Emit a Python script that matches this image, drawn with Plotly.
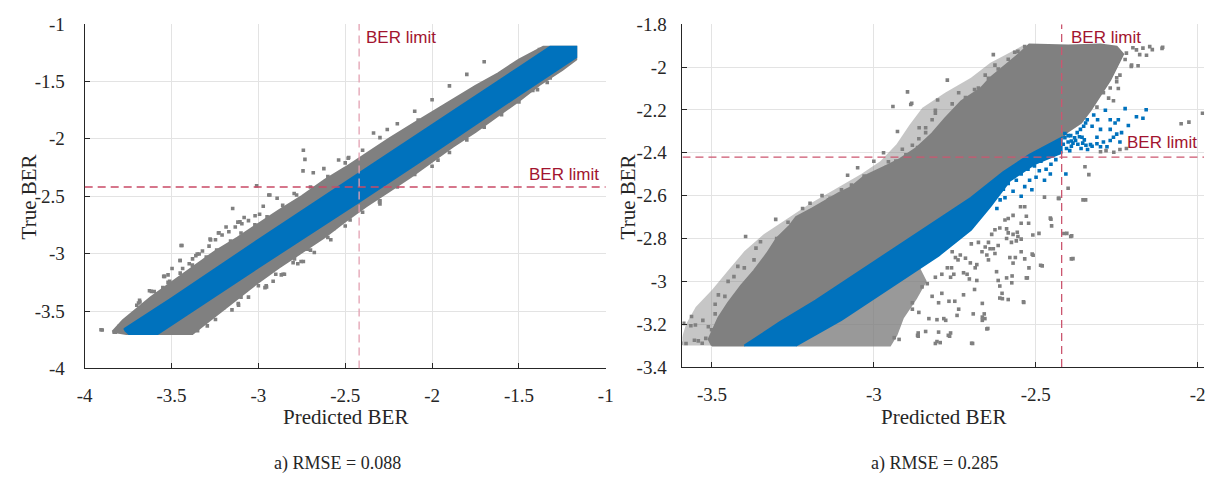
import plotly.graph_objects as go

W, H = 1222, 491
BER_LIMIT = -2.42

# ---------------- tick labels ----------------
L_TICKS = [-4, -3.5, -3, -2.5, -2, -1.5, -1]
L_TICKTEXT = ["-4", "-3.5", "-3", "-2.5", "-2", "-1.5", "-1"]
R_XTICKS = [-3.5, -3, -2.5, -2]
R_XTICKTEXT = ["-3.5", "-3", "-2.5", "-2"]
R_YTICKS = [-3.4, -3.2, -3.0, -2.8, -2.6, -2.4, -2.2, -2.0, -1.8]
R_YTICKTEXT = ["-3.4", "-3.2", "-3", "-2.8", "-2.6", "-2.4", "-2.2", "-2", "-1.8"]

# ---------------- left panel (RMSE = 0.088) ----------------
L_GRAY_X = [-3.84, -3.78, -3.70, -3.62, -3.50, -3.40, -3.25, -3.12, -3.00, -2.88, -2.75, -2.62, -2.50, -2.38,
            -2.25, -2.12, -2.00, -1.88, -1.75, -1.62, -1.50, -1.36, -1.17,
            -1.17, -1.25, -1.38, -1.50, -1.62, -1.75, -1.88, -2.00, -2.12, -2.25, -2.38, -2.50, -2.62, -2.75,
            -2.88, -3.00, -3.10, -3.20, -3.30, -3.38, -3.76]
L_GRAY_Y = [-3.68, -3.58, -3.48, -3.38, -3.25, -3.14, -2.98, -2.86, -2.74, -2.62, -2.50, -2.36, -2.25, -2.13,
            -2.00, -1.88, -1.77, -1.66, -1.54, -1.43, -1.31, -1.20, -1.20,
            -1.31, -1.40, -1.53, -1.67, -1.80, -1.94, -2.07, -2.20, -2.33, -2.46, -2.59, -2.72, -2.86, -2.99,
            -3.12, -3.25, -3.37, -3.49, -3.61, -3.70, -3.70]
L_BLUE_X = [-3.77, -3.745, -3.58, -3.00, -2.42, -2.00, -1.50, -1.17, -1.17, -1.32, -1.50, -2.00, -2.42, -3.00, -3.50, -3.77]
L_BLUE_Y = [-3.665, -3.70, -3.70, -3.12, -2.55, -2.13, -1.62, -1.29, -1.20, -1.20, -1.38, -1.88, -2.30, -2.88, -3.39, -3.655]
L_PTS_X = [-2.741, -2.732, -2.743, -3.01, -3.148, -3.44, -3.45, -3.545, -3.684, -3.80, -3.83, -3.899,
           -2.85, -2.955, -3.116, -2.741, -2.472, -2.30,
           -2.48, -2.538, -2.684, -2.623, -2.794, -2.892, -2.94, -2.993, -3.106, -3.23, -3.275, -3.352, -3.52, -3.627, -3.69,
           -1.382, -1.393, -1.337, -1.966, -1.76, -2.08, -2.258, -2.337, -2.483, -2.303, -2.483, -1.674, -1.584,
           -3.445, -3.497, -3.451, -3.906, -3.824, -3.752, -3.682, -3.72, -3.616, -3.54,
           -2.754, -2.858, -2.953, -3.114, -3.294, -3.35,
           -2.934, -2.972, -3.019, -3.082, -3.118, -3.186, -3.227, -3.278, -3.341, -3.379,
           -2.602, -2.565, -2.64, -2.716, -2.792, -2.915,
           -3.436, -3.398, -3.36, -3.322, -3.284, -3.247, -3.209, -3.17, -3.133, -3.095, -3.057,
           -3.511, -3.55, -3.587, -3.625, -3.663, -3.70,
           -3.70, -3.60, -3.52, -3.45, -3.38, -3.30, -3.24, -3.16, -3.10, -3.02, -2.95, -2.86, -2.78, -2.70,
           -3.247, -3.152, -3.057, -2.962, -2.868, -2.773, -2.678, -2.583,
           -3.30, -3.20, -3.10, -3.00, -2.90, -2.80, -2.70, -2.60, -2.50, -2.40, -2.30, -2.20, -2.10, -2.00,
           -1.90, -1.80, -1.70, -1.60, -1.50, -1.42, -1.32,
           -2.60, -2.50, -2.40, -2.30, -2.20, -2.10, -2.00, -1.90, -1.80, -1.70, -1.60, -1.50]
L_PTS_Y = [-2.10, -2.18, -2.28, -2.41, -2.607, -2.93, -3.06, -3.198, -3.407, -3.63, -3.685, -3.665,
           -3.18, -3.28, -3.435, -3.068, -2.707, -2.568,
           -2.163, -2.185, -2.296, -2.26, -2.477, -2.518, -2.49, -2.657, -2.724, -2.82, -2.88, -3.004, -3.185, -3.323, -3.43,
           -1.223, -1.572, -1.51, -2.186, -1.71, -1.837, -1.92, -1.95, -2.17, -2.55, -2.633, -1.572, -1.516,
           -2.929, -3.129, -3.06, -3.663, -3.685, -3.579, -3.421, -3.532, -3.329, -3.198,
           -3.068, -3.179, -3.29, -3.448, -3.629, -3.671,
           -2.49, -2.588, -2.671, -2.685, -2.726, -2.768, -2.818, -2.873, -3.004, -3.046,
           -2.74, -2.782, -2.852, -2.962, -3.046, -3.24,
           -3.129, -3.088, -3.018, -2.977, -2.935, -2.879, -2.838, -2.81, -2.768, -2.74, -2.713,
           -3.24, -3.296, -3.352, -3.407, -3.463, -3.518,
           -3.45, -3.33, -3.25, -3.17, -3.10, -3.03, -2.97, -2.89, -2.82, -2.75, -2.68, -2.58, -2.49, -2.42,
           -3.573, -3.49, -3.379, -3.296, -3.185, -3.088, -2.99, -2.879,
           -3.56, -3.47, -3.38, -3.28, -3.18, -3.08, -2.97, -2.86, -2.76, -2.64, -2.54, -2.42, -2.31, -2.24,
           -2.12, -2.01, -1.90, -1.79, -1.68, -1.58, -1.47,
           -2.33, -2.21, -2.10, -1.99, -1.87, -1.76, -1.66, -1.54, -1.44, -1.33, -1.44, -1.34]

# ---------------- right panel (RMSE = 0.285) ----------------
# sparser fringe zone round the dense gray core
R_GRAY_HALO_X = [-3.60, -3.58, -3.55, -3.50, -3.45, -3.40, -3.34, -3.28, -3.20, -3.12, -3.04, -2.98, -2.93,
                 -2.89, -2.85, -2.78, -2.70, -2.64, -2.58, -2.54, -2.45, -3.40]
R_GRAY_HALO_Y = [-3.30, -3.20, -3.12, -3.04, -2.95, -2.86, -2.78, -2.72, -2.64, -2.57, -2.50, -2.44, -2.36,
                 -2.27, -2.19, -2.12, -2.05, -1.98, -1.93, -1.90, -2.20, -3.30]
R_GRAY_CORE_X = [-3.50, -3.40, -3.29, -3.18, -3.08, -2.98, -2.88, -2.78, -2.70, -2.60, -2.52, -2.42, -2.40, -2.36,
                 -2.33, -2.30, -2.27, -2.25, -2.23, -2.25, -2.30, -2.40, -2.52, -2.56, -2.60, -2.64, -2.67, -2.73,
                 -2.78, -2.82, -2.87, -2.92, -2.96, -3.03, -3.07, -3.11, -3.19, -3.24, -3.26, -3.30, -3.33, -3.37,
                 -3.41, -3.45, -3.48, -3.51]
R_GRAY_CORE_Y = [-3.30, -3.30, -3.19, -3.09, -2.99, -2.89, -2.79, -2.69, -2.61, -2.49, -2.41, -2.33, -2.30, -2.26,
                 -2.20, -2.13, -2.06, -2.00, -1.94, -1.905, -1.895, -1.90, -1.895, -1.95, -2.00, -2.05, -2.10, -2.16,
                 -2.24, -2.31, -2.38, -2.43, -2.46, -2.51, -2.56, -2.59, -2.66, -2.70, -2.74, -2.80, -2.87, -2.95,
                 -3.02, -3.10, -3.17, -3.27]
R_GRAY_LOW_X = [-3.24, -3.10, -2.95, -2.86, -2.84, -2.87, -2.91, -2.93, -2.95]
R_GRAY_LOW_Y = [-3.30, -3.18, -3.03, -2.94, -3.00, -3.08, -3.17, -3.25, -3.30]
R_BLUE_X = [-3.40, -3.29, -3.18, -3.08, -2.98, -2.88, -2.78, -2.70, -2.60, -2.52, -2.42, -2.42,
            -2.50, -2.58, -2.64, -2.70, -2.80, -2.95, -3.10, -3.24]
R_BLUE_Y = [-3.30, -3.19, -3.09, -2.99, -2.89, -2.79, -2.69, -2.61, -2.49, -2.41, -2.33, -2.40,
            -2.45, -2.53, -2.65, -2.76, -2.88, -3.03, -3.18, -3.30]
R_GRAY_PTS_X = [
    -2.896, -2.883, -2.941, -2.927, -2.912, -2.955, -3.081, -3.069, -3.10, -3.14, -2.86, -2.84, -2.803, -2.81,
    -2.631, -2.565, -2.626, -2.656, -2.738, -2.689, -2.773, -2.886, -2.865, -3.114, -3.197, -3.102, -3.03,
    -3.396, -3.35, -3.303, -3.265, -3.232, -3.364, -3.333, -3.40, -3.432, -3.46, -3.48, -3.49, -3.563, -3.551,
    -3.528, -3.554, -3.542, -3.519, -3.511, -3.501, -3.587, -3.49, -3.595, -3.565, -3.53, -3.58, -3.45, -3.42,
    -3.37, -3.30, -3.24, -3.18, -3.22, -3.16, -3.05, -3.00, -2.97,
    -2.169, -2.148, -2.108, -2.189, -2.179, -2.204, -2.184, -2.26, -2.275, -2.224, -2.22, -2.205, -2.158, -2.14,
    -2.11, -2.027, -2.051, -1.985, -2.20, -2.25, -2.245,
    -2.283, -2.259, -2.24, -2.22, -2.30,
    -2.348, -2.336, -2.354, -2.40, -2.43, -2.413, -2.392, -2.39, -2.455, -2.485, -2.508, -2.538, -2.526, -2.574,
    -2.603, -2.657, -2.651, -2.698, -2.77, -2.805, -2.865, -2.80,
    -2.473, -2.428, -2.346, -2.453, -2.451, -2.404, -2.389, -2.385, -2.48, -2.49, -2.509, -2.511, -2.521, -2.529,
    -2.537, -2.585, -2.604, -2.611, -2.648, -2.659, -2.665, -2.665, -2.693, -2.695, -2.738, -2.743, -2.763,
    -2.766, -2.778, -2.768, -2.75, -2.723, -2.689, -2.665, -2.611, -2.616, -2.621, -2.59, -2.573, -2.534,
    -2.563, -2.58, -2.545, -2.57, -2.57, -2.585, -2.59, -2.555, -2.557, -2.545, -2.522, -2.529, -2.534, -2.547,
    -2.57, -2.595, -2.585, -2.626, -2.636, -2.646, -2.656, -2.641, -2.631, -2.677, -2.699, -2.666, -2.651,
    -2.646, -2.682, -2.687, -2.702, -2.717, -2.733, -2.74, -2.748, -2.758, -2.76, -2.773, -2.763, -2.753,
    -2.723, -2.712, -2.705, -2.682, -2.575, -2.56, -2.545, -2.616, -2.626, -2.59, -2.611,
    -2.795, -2.81, -2.84, -2.863, -2.863, -2.922, -2.937, -2.83, -2.805, -2.784, -2.881, -2.861, -2.881, -2.80,
    -2.82, -2.79, -2.851, -2.835, -2.81, -2.79,
    -3.287, -3.308, -3.348, -3.369, -3.389, -3.42, -3.44, -3.46, -3.47, -3.247, -3.216, -3.186, -3.165, -3.135,
    -3.277, -3.328,
    -2.983, -3.023, -2.962, -2.932, -2.901, -2.881, -2.861, -2.84, -2.82, -2.81, -3.064, -3.044,
    -2.758, -2.717, -2.677, -2.646, -2.616, -2.585, -2.555, -2.534,
    -2.24, -2.25, -2.27, -2.291, -2.311, -2.331]
R_GRAY_PTS_Y = [
    -2.116, -2.169, -2.184, -2.301, -2.384, -2.442, -2.505, -2.551, -2.573, -2.62, -2.283, -2.283, -2.154, -2.202,
    -1.942, -1.931, -1.991, -2.038, -2.12, -2.105, -2.061, -2.175, -2.376, -2.665, -2.636, -2.591, -2.509,
    -2.791, -2.815, -2.711, -2.724, -2.726, -2.845, -2.892, -2.937, -2.978, -3.07, -3.063, -3.107, -3.164, -3.204,
    -3.182, -3.275, -3.278, -3.266, -3.212, -3.226, -3.196, -3.152, -3.289, -3.207, -3.289, -3.29, -3.00, -2.93,
    -2.90, -2.80, -2.76, -2.70, -2.66, -2.60, -2.47, -2.44, -2.40,
    -1.912, -1.905, -1.908, -1.92, -1.942, -1.991, -1.994, -2.157, -2.145, -1.965, -1.935, -1.997, -1.945, -1.919,
    -1.913, -2.257, -2.265, -2.216, -1.91, -2.05, -2.10,
    -2.39, -2.398, -2.385, -2.38, -2.395,
    -2.465, -2.502, -2.62, -2.566, -2.613, -2.777, -2.791, -2.895, -2.705, -2.925, -2.878, -3.096, -2.984, -3.007,
    -3.081, -3.174, -3.222, -3.289, -3.252, -3.281, -3.252, -3.237,
    -2.607, -2.613, -2.62, -2.71, -2.741, -2.776, -2.788, -2.894, -2.928, -2.776, -2.784, -2.873, -2.937, -2.984,
    -3.099, -3.085, -3.056, -3.078, -3.22, -3.152, -3.167, -3.182, -3.152, -3.29, -3.13, -3.159, -3.241,
    -3.256, -3.182, -3.093, -3.093, -3.063, -3.038, -3.103, -3.022, -2.996, -2.955, -2.984, -2.975, -2.895,
    -2.889, -2.889, -2.862, -2.915, -2.781, -2.774, -2.80, -2.791, -2.771, -2.729, -2.729, -2.696, -2.652, -2.652,
    -2.692, -2.714, -2.707, -2.759, -2.781, -2.818, -2.84, -2.848, -2.848, -2.818, -2.825, -2.862, -2.877,
    -2.90, -2.922, -2.937, -2.914, -2.892, -2.877, -2.90, -2.889, -2.862, -2.937, -2.937, -2.981, -2.967,
    -2.96, -2.967, -2.989, -2.996, -2.818, -2.811, -2.803, -2.833, -2.87, -2.755, -2.751,
    -3.286, -3.29, -3.234, -3.256, -3.241, -3.271, -3.263, -3.174, -3.179, -3.174, -3.13, -3.145, -3.10, -3.10,
    -3.07, -3.056, -3.026, -3.011, -2.981, -2.967,
    -2.877, -2.937, -2.981, -3.026, -3.07, -3.115, -3.16, -3.204, -3.249, -2.803, -2.759, -2.70, -2.655, -2.612,
    -2.833, -2.922,
    -2.499, -2.528, -2.469, -2.439, -2.41, -2.365, -2.335, -2.306, -2.246, -2.216, -2.573, -2.603,
    -2.172, -2.142, -2.098, -2.053, -2.009, -1.964, -1.927, -1.905,
    -2.038, -2.068, -2.098, -2.12, -2.187, -2.172]
R_BLUE_PTS_X = [
    -2.453, -2.455, -2.473, -2.499, -2.512, -2.534, -2.545, -2.57, -2.585, -2.595, -2.504, -2.524, -2.484, -2.545,
    -2.56, -2.519, -2.489, -2.468, -2.438, -2.433, -2.463, -2.61, -2.60, -2.62,
    -2.159, -2.189, -2.169, -2.224, -2.245, -2.27, -2.285, -2.321, -2.341, -2.352, -2.326, -2.30, -2.25, -2.26,
    -2.24, -2.214, -2.27, -2.291, -2.311, -2.331, -2.28, -2.30, -2.326, -2.27, -2.235, -2.311, -2.377, -2.392,
    -2.372, -2.357, -2.362, -2.255, -2.407, -2.346, -2.309,
    -2.41, -2.40, -2.39, -2.38, -2.37, -2.36, -2.35, -2.405, -2.395, -2.385, -2.365, -2.345, -2.34, -2.355,
    -2.415, -2.41, -2.40, -2.39]
R_BLUE_PTS_Y = [
    -2.454, -2.499, -2.528, -2.514, -2.573, -2.558, -2.603, -2.58, -2.543, -2.61, -2.462, -2.477, -2.439, -2.499,
    -2.528, -2.528, -2.484, -2.477, -2.432, -2.402, -2.417, -2.62, -2.57, -2.66,
    -2.199, -2.232, -2.239, -2.194, -2.246, -2.246, -2.202, -2.224, -2.246, -2.276, -2.276, -2.291, -2.313, -2.328,
    -2.35, -2.273, -2.343, -2.35, -2.358, -2.362, -2.372, -2.372, -2.37, -2.291, -2.306, -2.328, -2.343, -2.32,
    -2.306, -2.328, -2.291, -2.261, -2.499, -2.261, -2.246,
    -2.33, -2.35, -2.37, -2.33, -2.36, -2.38, -2.34, -2.38, -2.39, -2.355, -2.325, -2.365, -2.385, -2.355,
    -2.36, -2.31, -2.32, -2.345]

GRAY = "#808080"
BLUE = "#0072BD"
RED_TXT = "#A2142F"
SERIF = "Liberation Serif, Times New Roman, serif"
SANS = "Liberation Sans, Arial, sans-serif"

fig = go.Figure()


def poly(x, y, color, xa, ya, opacity=1.0, lw=2):
    fig.add_trace(go.Scatter(x=x + [x[0]], y=y + [y[0]], mode="lines", fill="toself",
                             fillcolor=color, line=dict(color=color, width=lw), opacity=opacity,
                             xaxis=xa, yaxis=ya, hoverinfo="skip", showlegend=False))


def pts(x, y, color, xa, ya):
    fig.add_trace(go.Scatter(x=x, y=y, mode="markers",
                             marker=dict(symbol="square", size=3.6, color=color, line=dict(width=0)),
                             xaxis=xa, yaxis=ya, hoverinfo="skip", showlegend=False))


# left
poly(L_GRAY_X, L_GRAY_Y, GRAY, "x", "y")
pts(L_PTS_X, L_PTS_Y, GRAY, "x", "y")
poly(L_BLUE_X, L_BLUE_Y, BLUE, "x", "y")
# right
poly(R_GRAY_HALO_X, R_GRAY_HALO_Y, GRAY, "x2", "y2", opacity=0.45, lw=0)
poly(R_GRAY_CORE_X, R_GRAY_CORE_Y, GRAY, "x2", "y2")
poly(R_GRAY_LOW_X, R_GRAY_LOW_Y, GRAY, "x2", "y2", opacity=0.8)
pts(R_GRAY_PTS_X, R_GRAY_PTS_Y, GRAY, "x2", "y2")
poly(R_BLUE_X, R_BLUE_Y, BLUE, "x2", "y2")
pts(R_BLUE_PTS_X, R_BLUE_PTS_Y, BLUE, "x2", "y2")

L_XDOM = [77.7 / W, 605.7 / W]
L_YDOM = [1 - 374.5 / H, 1 - 14.5 / H]
R_XDOM = [683.4 / W, 1212 / W]
R_YDOM = [1 - 373 / H, 1 - 14.8 / H]


def axis(dom, rng, tv, tt, anchor, standoff):
    return dict(domain=dom, range=rng, tickvals=tv, ticktext=tt, anchor=anchor,
                ticklabelstandoff=standoff, showline=True, linecolor="#262626", linewidth=1,
                mirror=False, ticks="inside", ticklen=5, tickcolor="#262626", showgrid=True,
                gridcolor="#e3e3e3", gridwidth=1, zeroline=False,
                tickfont=dict(family=SERIF, size=19, color="#262626"))


fig.update_layout(
    width=W, height=H, margin=dict(l=0, r=0, t=0, b=0),
    font=dict(family=SERIF, size=19, color="#262626"),
    paper_bgcolor="white", plot_bgcolor="white", showlegend=False,
    xaxis=axis(L_XDOM, [-4, -1], L_TICKS, L_TICKTEXT, "y", 10),
    yaxis=axis(L_YDOM, [-4, -1], L_TICKS, L_TICKTEXT, "x", 15),
    xaxis2=axis(R_XDOM, [-3.591, -1.98], R_XTICKS, R_XTICKTEXT, "y2", 10),
    yaxis2=axis(R_YDOM, [-3.4, -1.8], R_YTICKS, R_YTICKTEXT, "x2", 11),
)

line_specs = [("x", "y", [-4, -1], [-4, -1], "#C94A66", "#E3A1B1"),
              ("x2", "y2", [-3.591, -1.98], [-3.4, -1.8], "#CB566F", "#CB566F")]
for xa, ya, xr, yr, hcol, vcol in line_specs:
    fig.add_shape(type="line", xref=xa, yref=ya, x0=xr[0], x1=xr[1], y0=BER_LIMIT, y1=BER_LIMIT,
                  line=dict(color=hcol, width=1.3, dash="8px,5px"))
    fig.add_shape(type="line", xref=xa, yref=ya, x0=BER_LIMIT, x1=BER_LIMIT, y0=yr[0], y1=yr[1],
                  line=dict(color=vcol, width=1.3, dash="8px,5px"))


def ann(text, px, py, size, family, color="#262626", angle=0, xanchor="center"):
    fig.add_annotation(text=text, x=px / W, y=1 - py / H, xref="paper", yref="paper",
                       showarrow=False, xanchor=xanchor, yanchor="middle", textangle=angle,
                       font=dict(family=family, size=size, color=color))


ann("BER limit", 361, 29, 17, SANS, RED_TXT, xanchor="left")
ann("BER limit", 601, 172, 17, SANS, RED_TXT, xanchor="right")
ann("BER limit", 1075, 29, 17, SANS, RED_TXT, xanchor="left")
ann("BER limit", 1207, 138, 17, SANS, RED_TXT, xanchor="right")

ann("Predicted BER", 341.7, 425, 21, SERIF)
ann("Predicted BER", 947.7, 425, 21, SERIF)
ann("True BER", 21, 195, 21, SERIF, angle=-90)
ann("True BER", 628, 195, 21, SERIF, angle=-90)
ann("a) RMSE = 0.088", 334, 474, 18, SERIF)
ann("a) RMSE = 0.285", 939, 474, 18, SERIF)

fig.write_html("out.html")
